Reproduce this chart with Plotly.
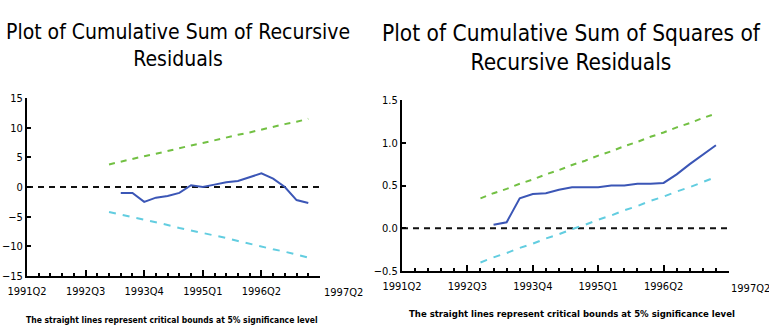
import plotly.graph_objects as go

# ---------------- data ----------------
quarters = ["1991Q2", "1991Q3", "1991Q4", "1992Q1", "1992Q2", "1992Q3", "1992Q4",
            "1993Q1", "1993Q2", "1993Q3", "1993Q4", "1994Q1", "1994Q2", "1994Q3",
            "1994Q4", "1995Q1", "1995Q2", "1995Q3", "1995Q4", "1996Q1", "1996Q2",
            "1996Q3", "1996Q4", "1997Q1", "1997Q2", "1997Q3"]
tick_labels = ["1991Q2", "1992Q3", "1993Q4", "1995Q1", "1996Q2"]
end_label = "1997Q2"

# CUSUM panel
cusum_start = "1993Q2"
cusum = [-1.0, -1.0, -2.5, -1.8, -1.5, -1.0, 0.3, 0.0, 0.4, 0.8, 1.0, 1.6, 2.3, 1.4, 0.0, -2.2, -2.7]
cusum_bound_start = "1993Q1"
cusum_upper = [3.8, 4.3, 4.7, 5.2, 5.6, 6.1, 6.5, 7.0, 7.4, 7.9, 8.3, 8.8, 9.2, 9.7, 10.1, 10.6, 11.0, 11.5]
cusum_lower = [-4.2, -4.7, -5.1, -5.5, -5.9, -6.4, -6.9, -7.3, -7.7, -8.2, -8.6, -9.1, -9.6, -10.0, -10.5, -10.9, -11.4, -11.9]

# CUSUM of squares panel
cusumsq_start = "1993Q1"
cusumsq = [0.04, 0.07, 0.35, 0.40, 0.41, 0.45, 0.48, 0.48, 0.48, 0.50, 0.50, 0.52, 0.52, 0.53, 0.63, 0.75, 0.86, 0.97]
cusumsq_bound_start = "1992Q4"
cusumsq_upper = [0.35, 0.41, 0.46, 0.52, 0.57, 0.63, 0.68, 0.74, 0.79, 0.85, 0.90, 0.96, 1.01, 1.07, 1.12, 1.18, 1.23, 1.29, 1.34]
cusumsq_lower = [-0.40, -0.34, -0.29, -0.23, -0.18, -0.12, -0.07, -0.01, 0.04, 0.10, 0.15, 0.21, 0.26, 0.32, 0.37, 0.43, 0.48, 0.54, 0.60]

titles = ["Plot of Cumulative Sum of Recursive<br>Residuals",
          "Plot of Cumulative Sum of Squares of<br>Recursive Residuals"]
footnote = "The straight lines represent critical bounds at 5% significance level"

# ---------------- helpers ----------------
def xs(start, n):
    i0 = quarters.index(start)
    return list(range(i0, i0 + n))

FONT = "Liberation Sans Narrow, DejaVu Sans Condensed, Arial Narrow, sans-serif"
GREEN = "#72c043"
BLUE = "#3b56b6"
CYAN = "#62cde0"

fig = go.Figure()

def add_panel(xa, ya, series, bstart, upper, lower, sstart):
    n_last = len(quarters) - 1
    fig.add_trace(go.Scatter(x=[0, n_last], y=[0, 0], mode="lines", xaxis=xa, yaxis=ya,
                             line=dict(color="#111111", width=2, dash="6px,5px"), showlegend=False))
    fig.add_trace(go.Scatter(x=xs(bstart, len(upper)), y=upper, mode="lines", xaxis=xa, yaxis=ya,
                             line=dict(color=GREEN, width=2, dash="6px,6px"), showlegend=False))
    fig.add_trace(go.Scatter(x=xs(bstart, len(lower)), y=lower, mode="lines", xaxis=xa, yaxis=ya,
                             line=dict(color=CYAN, width=2, dash="7px,7px"), showlegend=False))
    fig.add_trace(go.Scatter(x=xs(sstart, len(series)), y=series, mode="lines", xaxis=xa, yaxis=ya,
                             line=dict(color=BLUE, width=2), showlegend=False))

add_panel("x", "y", cusum, cusum_bound_start, cusum_upper, cusum_lower, cusum_start)
add_panel("x2", "y2", cusumsq, cusumsq_bound_start, cusumsq_upper, cusumsq_lower, cusumsq_start)

W, H = 769, 328
major_vals = [quarters.index(q) for q in tick_labels] + [len(quarters) - 1]
major_text = tick_labels + [""]

def xaxis_cfg(x0, x1, anchor):
    return dict(domain=[x0 / W, x1 / W], anchor=anchor, range=[0, len(quarters) - 1],
                tickvals=major_vals, ticktext=major_text, showgrid=False, zeroline=False,
                showline=True, linecolor="black", linewidth=2, ticks="inside", ticklen=6,
                tickwidth=1.5, tickcolor="black", ticklabelstandoff=4,
                minor=dict(dtick=1, tick0=0, ticks="inside", ticklen=3, tickcolor="black", tickwidth=1.5),
                tickfont=dict(family=FONT, size=11, color="black"))

def yaxis_cfg(y_top, y_bot, anchor, rng, dtick, fmt):
    return dict(domain=[(H - y_bot) / H, (H - y_top) / H], anchor=anchor, range=rng, dtick=dtick,
                tickformat=fmt, showgrid=False, zeroline=False, showline=True, linecolor="black",
                linewidth=2, ticks="inside", ticklen=4, tickcolor="black", tickwidth=1.5,
                tickfont=dict(family=FONT, size=11, color="black"))

fig.update_layout(
    width=W, height=H, margin=dict(l=0, r=0, t=0, b=0, autoexpand=False),
    paper_bgcolor="white", plot_bgcolor="white", showlegend=False,
    xaxis=xaxis_cfg(27, 320, "y"),
    yaxis=yaxis_cfg(98, 276, "x", [-15, 15], 5, "d"),
    xaxis2=xaxis_cfg(402, 729, "y2"),
    yaxis2=yaxis_cfg(100, 271, "x2", [-0.5, 1.5], 0.5, ".1f"),
)

def paper_ann(text, px, py, size):
    return dict(text=text, x=px / W, y=(H - py) / H, xref="paper", yref="paper",
                xanchor="center", yanchor="middle", showarrow=False, align="center",
                font=dict(family=FONT, size=size, color="black"))

ann = [
    paper_ann(titles[0], 178, 45, 21),
    paper_ann(titles[1], 571, 47, 22.5),
    paper_ann("<b>" + footnote + "</b>", 172, 320, 8.5),
    paper_ann("<b>" + footnote + "</b>", 572, 313, 9.5),
    paper_ann(end_label, 343, 292, 11),
    paper_ann(end_label, 750, 288, 11),
]
fig.update_layout(annotations=ann)

fig.write_html("out.html", config={"displayModeBar": False},
               post_script="document.body.style.margin='0';")
